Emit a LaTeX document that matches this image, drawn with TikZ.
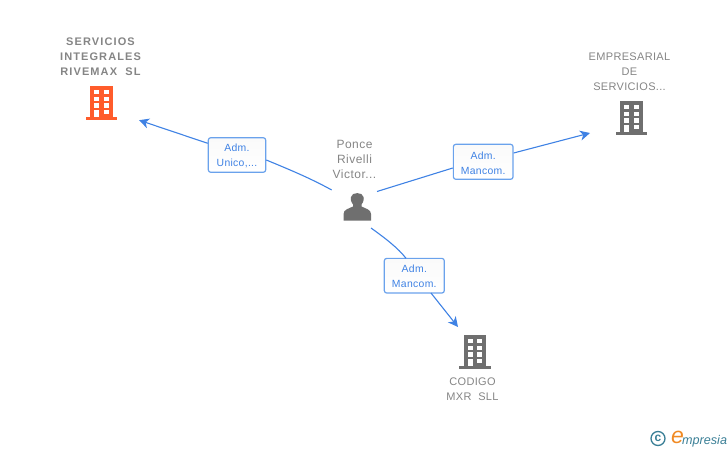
\documentclass[tikz,border=0pt]{standalone}
\usepackage{fontspec}
\setmainfont{Liberation Sans}
\newfontfamily\lblbold[LetterSpace=10]{Liberation Sans Bold}
\newfontfamily\lblreg[LetterSpace=3]{Liberation Sans}
\newfontfamily\lblwide[LetterSpace=4]{Liberation Sans}
\usetikzlibrary{arrows.meta}
\definecolor{txtgrey}{HTML}{858585}
\definecolor{icongrey}{HTML}{6F6F6F}
\definecolor{iconorange}{HTML}{FF5C2B}
\definecolor{linkblue}{HTML}{3F82E4}
\definecolor{boxblue}{HTML}{6AA2EC}
\definecolor{logoteal}{HTML}{3A7F96}
\definecolor{logoorange}{HTML}{F08A24}
\newcommand{\lowerstrut}{\rule{0pt}{9.5pt}}
\tikzset{
  x=1pt,y=-1pt,
  namelabel/.style={text=txtgrey,align=center,inner sep=0pt,font=\lblreg\fontsize{11}{15}\selectfont},
  personlabel/.style={text=txtgrey,align=center,inner sep=0pt,font=\lblwide\fontsize{12}{15}\selectfont},
  boldlabel/.style={text=txtgrey,align=center,inner sep=0pt,font=\lblbold\fontsize{11}{15}\selectfont},
  rolebox/.style={draw=boxblue,line width=1.2pt,rounded corners=2.5pt,
    top color=white!98!black,bottom color=white,
    inner sep=0pt,align=center,text=linkblue,font=\lblreg\fontsize{10.4}{15}\selectfont},
  link/.style={draw=linkblue,line width=1.1pt},
  linkarrow/.style={link,-{Stealth[length=10pt,width=10pt,inset=3pt]}},
}
% building icon: #1 colour, #2 centre x, #3 base y
\newcommand{\bldgicon}[3]{%
  \begin{scope}[shift={(#2,#3)}]
    \fill[#1] (-15.7,-3.3) rectangle (15.7,0);
    \fill[#1] (-11.3,-34) rectangle (11.3,-3);
    \foreach \yy in {-30,-23.3,-16.7}{
      \fill[white] (-7.3,\yy) rectangle (-2.3,\yy+4.4);
      \fill[white] (2.4,\yy) rectangle (7.4,\yy+4.4);
    }
    \fill[white] (-7.3,-10) rectangle (-2.3,-3.3);
    \fill[white] (2.4,-10) rectangle (7.4,-5.6);
  \end{scope}}
\begin{document}
\begin{tikzpicture}
\useasboundingbox (0,0) rectangle (728,450);
% icons
\bldgicon{iconorange}{101.3}{120}
\bldgicon{icongrey}{631.5}{135}
\bldgicon{icongrey}{475}{369}
% person
\fill[icongrey] (343.5,220.7) -- (343.5,214) .. controls (343.5,209.5) and (349,208.5) .. (353,206.5)
  -- (353,204.5) .. controls (350.5,201.5) and (350.5,198) .. (351,197)
  .. controls (351.5,191.8) and (363,191.8) .. (363.5,197)
  .. controls (364,198) and (364,201.5) .. (361.5,204.5)
  -- (361.5,206.5) .. controls (365.5,208.5) and (371,209.5) .. (371,214) -- (371,220.7) -- cycle;
% labels
\node[boldlabel] (nserv) at (100.5,56.5) {SERVICIOS\\INTEGRALES\\RIVEMAX\ \ SL};
\node[namelabel] (nemp) at (629.5,72) {EMPRESARIAL\\DE\\SERVICIOS...};
\node[personlabel] (nperson) at (354.5,159) {Ponce\\Rivelli\\Victor...};
\node[namelabel] (ncod) at (472.5,389) {CODIGO\\MXR\ \ SLL};
% role boxes
\node[rolebox,minimum width=57.4pt,minimum height=34.6pt] (b1) at (237,155) {\lowerstrut Adm.\\Unico,...};
\node[rolebox,minimum width=59.7pt,minimum height=35pt] (b2) at (483.2,161.8) {\lowerstrut Adm.\\Mancom.};
\node[rolebox,minimum width=60pt,minimum height=34.7pt] (b3) at (414.3,275.7) {\lowerstrut Adm.\\Mancom.};
% connector ends
\coordinate (p1) at (331.7,190);
\coordinate (p2) at (377,191.5);
\coordinate (p3) at (371,228);
\coordinate (t1) at (139,120.2);
\coordinate (t2) at (590,133);
\coordinate (t3) at (458,327);
\coordinate (b1r) at (b1.east |- 0,160);
\coordinate (b1l) at (b1.west |- 0,143.3);
\coordinate (b2l) at (b2.west |- 0,168);
\coordinate (b2r) at (b2.east |- 0,153);
\coordinate (b3t) at (406,258.3);
\coordinate (b3b) at (431,293);
% connectors
\draw[link] (p1) .. controls (310,178) and (288,169) .. (b1r);
\draw[linkarrow] (b1l) -- (t1);
\draw[link] (p2) -- (b2l);
\draw[linkarrow] (b2r) -- (t2);
\draw[link] (p3) .. controls (385,238) and (398,248) .. (b3t);
\draw[linkarrow] (b3b) -- (t3);
% logo
\node[draw=logoteal,line width=1.3pt,circle,minimum size=14pt,inner sep=0pt,text=logoteal,font=\bfseries\fontsize{12}{12}\selectfont] (copy) at (658,438.5) {c};
\node[text=logoorange,inner sep=0pt,font=\itshape\fontsize{23}{23}\selectfont] (loge) at (677.5,437.5) {e};
\node[text=logoteal,inner sep=0pt,anchor=west,font=\itshape\fontsize{12.6}{12.6}\selectfont] (logot) at (682,441) {mpresia};
\end{tikzpicture}
\end{document}
